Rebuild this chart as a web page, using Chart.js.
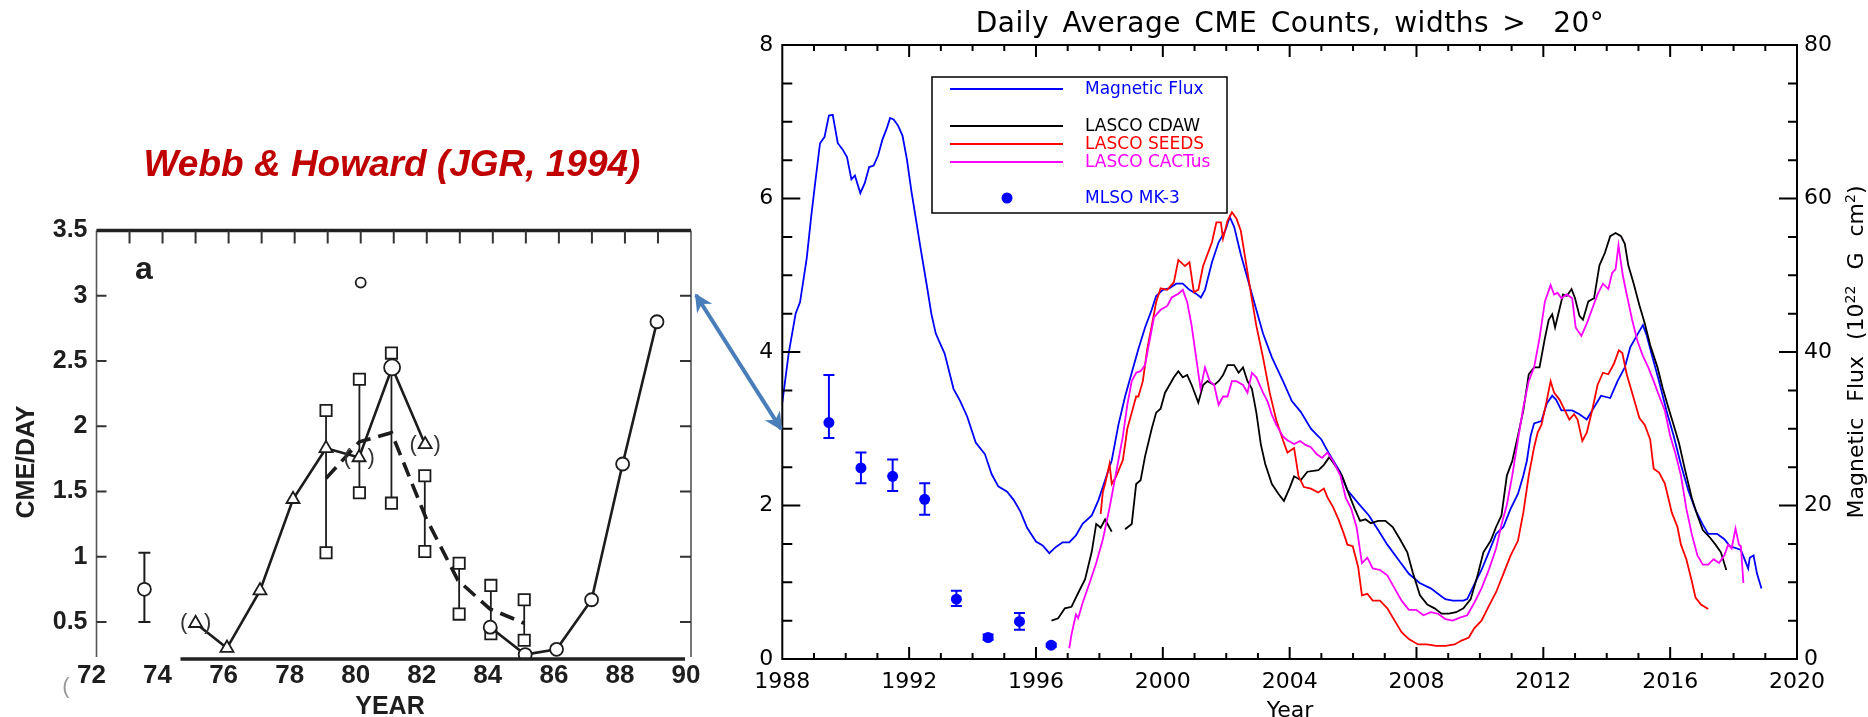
<!DOCTYPE html>
<html>
<head>
<meta charset="utf-8">
<title>CME rates</title>
<script src="https://cdn.jsdelivr.net/npm/chart.js@4.4.0/dist/chart.umd.min.js"></script>
<style>
html, body { margin: 0; padding: 0; background: #fff; }
#wrap { position: relative; width: 1868px; height: 717px; overflow: hidden; background: #fff; }
#wrap canvas, #wrap svg { position: absolute; left: 0; top: 0; }
.txt { position: absolute; white-space: nowrap; line-height: 1; transform: translate(-50%, -50%); }
.bold { font-family: 'Liberation Sans', Arial, sans-serif; font-weight: bold; color: #1e1e1e; }
.idl { font-family: 'DejaVu Sans', sans-serif; color: #000; }
</style>
</head>
<body>
<div id="wrap">
  <canvas id="webb" width="1868" height="717"></canvas>
  <canvas id="cme" width="1868" height="717"></canvas>

  <svg width="1868" height="717">
    <defs>
      <marker id="head" viewBox="0 0 10 10" refX="9" refY="5" markerWidth="5.5" markerHeight="4.5" orient="auto-start-reverse">
        <path d="M0,0 L10,5 L0,10 L3,5 z" fill="#4a7ebb"/>
      </marker>
    </defs>
    <line x1="696" y1="295" x2="781" y2="429" stroke="#4a7ebb" stroke-width="4" marker-start="url(#head)" marker-end="url(#head)"/>
  </svg>

  <!-- left panel text -->
  <div class="txt" style="left:392px;top:164px;font:italic bold 37px 'Liberation Sans', Arial, sans-serif;color:#c00000;">Webb &amp; Howard (JGR, 1994)</div>
  <div class="txt bold" style="left:144px;top:268px;font-size:32px;">a</div>
  <div class="txt bold" style="left:25px;top:462px;font-size:25px;transform:translate(-50%,-50%) rotate(-90deg);">CME/DAY</div>
  <div class="txt bold" style="left:390px;top:705px;font-size:25px;">YEAR</div>
  <div class="txt" style="left:66px;top:686px;font:22px 'Liberation Sans', Arial, sans-serif;color:#999;">(</div>

  <!-- right panel text -->
  <div class="txt idl" style="left:1290px;top:23px;font-size:28px;letter-spacing:0.5px;word-spacing:4px;">Daily Average CME Counts, widths &gt;&nbsp; 20°</div>
  <div class="txt idl" style="left:1290px;top:710px;font-size:22px;">Year</div>
  <div class="txt idl" style="left:1855px;top:352px;font-size:22px;word-spacing:9px;transform:translate(-50%,-50%) rotate(-90deg);">Magnetic Flux (10<sup style="font-size:14px;">22</sup> G cm<sup style="font-size:14px;">2</sup>)</div>
</div>

<script>
const SANS = "'DejaVu Sans', sans-serif";
const ARIAL = "'Liberation Sans', Arial, sans-serif";

// ── Webb & Howard (1994), panel a: CMEs per day vs year (19xx) ──────────
const whXTicks = [72, 74, 76, 78, 80, 82, 84, 86, 88, 90];
const whYTicks = [0.5, 1, 1.5, 2, 2.5, 3, 3.5];

// solid curve with open triangles
const whTriYears = [75.0, 75.95, 76.95, 77.95, 78.95, 79.95, 80.95, 81.95];
const whTriRates = [0.49, 0.30, 0.74, 1.44, 1.83, 1.76, 2.45, 1.86];
const whParenIdx = [0, 5, 7];            // triangles printed inside "( )"

// solid curve with open circles
const whCircYears = [83.92, 84.98, 85.93, 86.99, 87.93, 88.97];
const whCircRates = [0.46, 0.25, 0.29, 0.67, 1.71, 2.80];

// dashed curve
const whMeanYears = [78.95, 79.96, 80.93, 81.97, 82.94, 83.91, 84.95];
const whMeanRates = [1.60, 1.88, 1.95, 1.30, 0.82, 0.60, 0.49];

// open squares: upper and lower values joined by a vertical bar
const whBoxYears = [78.95, 79.96, 80.93, 81.94, 82.98, 83.94, 84.95];
const whBoxHigh  = [2.12, 2.36, 2.56, 1.62, 0.95, 0.78, 0.67];
const whBoxLow   = [1.03, 1.49, 1.41, 1.04, 0.56, 0.41, 0.36];

// single circles
const whEarlyYear = [73.45], whEarlyRate = [0.75], whEarlyLo = [0.50], whEarlyHi = [1.03];
const whPeakYear = [80.95], whPeakRate = [2.45];
const whOddYear = [80.0], whOddRate = [3.10];

// ── Daily average CME counts (widths > 20°) and magnetic flux ─────────
const cmeYTicks = [0, 2, 4, 6, 8];
const fluxTicks = [0, 20, 40, 60, 80];

const fluxYears = [1988.0, 1988.2, 1988.42, 1988.56, 1988.77, 1988.91, 1989.05, 1989.19, 1989.33, 1989.47,
  1989.59, 1989.75, 1989.9, 1990.04, 1990.18, 1990.29, 1990.46, 1990.6, 1990.74, 1990.88,
  1991.02, 1991.16, 1991.3, 1991.4, 1991.51, 1991.65, 1991.79, 1991.93, 1992.07, 1992.21,
  1992.35, 1992.56, 1992.7, 1992.84, 1993.12, 1993.4, 1993.61, 1993.83, 1994.1, 1994.39,
  1994.6, 1994.81, 1995.09, 1995.3, 1995.51, 1995.72, 1996.0, 1996.21, 1996.42, 1996.63,
  1996.84, 1997.05, 1997.26, 1997.47, 1997.76, 1997.97, 1998.18, 1998.39, 1998.6, 1998.81,
  1999.02, 1999.23, 1999.44, 1999.65, 1999.79, 2000.0, 2000.2, 2000.42, 2000.63, 2000.84,
  2001.05, 2001.2, 2001.33, 2001.55, 2001.76, 2001.97, 2002.11, 2002.25, 2002.46, 2002.67,
  2002.88, 2003.16, 2003.44, 2003.79, 2004.07, 2004.35, 2004.67, 2005.0, 2005.25, 2005.6,
  2005.82, 2006.16, 2006.5, 2006.79, 2007.08, 2007.42, 2007.76, 2008.1, 2008.45, 2008.74,
  2008.91, 2009.14, 2009.48, 2009.6, 2009.82, 2010.05, 2010.28, 2010.51, 2010.74, 2010.97,
  2011.2, 2011.37, 2011.48, 2011.6, 2011.71, 2011.94, 2012.11, 2012.28, 2012.4, 2012.57,
  2012.91, 2013.14, 2013.37, 2013.6, 2013.82, 2014.11, 2014.34, 2014.57, 2014.74, 2014.97,
  2015.14, 2015.25, 2015.43, 2015.65, 2015.88, 2016.11, 2016.34, 2016.57, 2016.8, 2017.03,
  2017.2, 2017.48, 2017.71, 2017.88, 2018.11, 2018.23, 2018.46, 2018.51, 2018.63, 2018.74, 2018.88];
const fluxValues = [33.4, 39.8, 45.0, 46.5, 52.2, 57.6, 62.5, 67.2, 68.0, 70.8,
  70.9, 67.2, 66.4, 65.4, 62.5, 63.0, 60.7, 62.0, 64.1, 64.3,
  65.6, 67.7, 69.2, 70.5, 70.3, 69.5, 68.2, 65.1, 61.0, 57.4,
  53.8, 48.6, 45.0, 42.4, 39.8, 35.2, 33.6, 31.6, 28.2, 26.7,
  24.1, 22.5, 21.8, 20.7, 19.2, 17.1, 15.3, 14.8, 13.8, 14.6,
  15.2, 15.2, 16.1, 17.6, 18.7, 20.7, 23.3, 25.9, 30.5, 34.2,
  37.3, 40.4, 43.2, 45.5, 47.3, 48.1, 48.3, 48.9, 48.9, 48.1,
  47.6, 47.1, 48.1, 51.7, 54.3, 55.8, 57.6, 56.3, 52.7, 49.6,
  46.5, 42.4, 39.3, 36.2, 33.6, 32.2, 30.0, 28.6, 26.7, 24.3,
  22.0, 20.3, 18.7, 16.8, 14.9, 13.0, 11.1, 9.9, 9.2, 8.3,
  7.8, 7.6, 7.6, 7.8, 9.7, 11.6, 13.9, 16.3, 17.2, 19.6,
  21.5, 23.9, 25.8, 29.1, 30.7, 31.0, 33.3, 34.3, 33.8, 32.4,
  32.4, 31.9, 31.2, 32.8, 34.3, 34.0, 36.2, 38.0, 40.6, 42.3,
  43.5, 42.3, 39.5, 36.2, 32.4, 29.1, 25.3, 22.0, 19.4, 17.5,
  16.3, 16.3, 15.6, 14.7, 14.4, 14.2, 11.8, 13.2, 13.5, 11.1, 9.2];

const cdawYears = [1996.49, 1996.7, 1996.91, 1997.12, 1997.33, 1997.55, 1997.76, 1997.9, 1998.04, 1998.18,
  1998.32, 1998.39, 1998.6, 1998.81, 1999.02, 1999.16, 1999.3, 1999.44, 1999.65, 1999.79,
  1999.93, 2000.07, 2000.21, 2000.35, 2000.49, 2000.63, 2000.77, 2000.91, 2001.12, 2001.27,
  2001.41, 2001.62, 2001.76, 2001.9, 2002.04, 2002.25, 2002.39, 2002.53, 2002.67, 2002.81,
  2002.95, 2003.09, 2003.23, 2003.44, 2003.65, 2003.82, 2004.0, 2004.14, 2004.35, 2004.56,
  2004.91, 2005.08, 2005.25, 2005.42, 2005.65, 2005.82, 2006.05, 2006.22, 2006.39, 2006.56,
  2006.79, 2007.02, 2007.25, 2007.48, 2007.71, 2007.88, 2008.11, 2008.34, 2008.57, 2008.79,
  2009.02, 2009.25, 2009.48, 2009.71, 2009.94, 2010.11, 2010.34, 2010.51, 2010.68, 2010.85,
  2011.02, 2011.2, 2011.37, 2011.54, 2011.71, 2011.88, 2012.05, 2012.17, 2012.28, 2012.37,
  2012.51, 2012.62, 2012.74, 2012.89, 2013.0, 2013.14, 2013.25, 2013.42, 2013.6, 2013.77,
  2013.94, 2014.11, 2014.28, 2014.45, 2014.57, 2014.68, 2014.85, 2015.03, 2015.2, 2015.37,
  2015.6, 2015.77, 2015.94, 2016.11, 2016.28, 2016.46, 2016.68, 2016.86, 2017.03, 2017.26,
  2017.43, 2017.6, 2017.77];
const cdawCounts = [0.50, 0.53, 0.66, 0.68, 0.86, 1.04, 1.40, 1.76, 1.71, 1.82,
  1.71, 1.66, null, 1.69, 1.76, 2.28, 2.33, 2.64, 3.00, 3.21,
  3.26, 3.47, 3.57, 3.67, 3.75, 3.67, 3.70, 3.57, 3.34, 3.57,
  3.62, 3.57, 3.62, 3.70, 3.83, 3.83, 3.73, 3.80, 3.62, 3.52,
  3.21, 2.80, 2.54, 2.28, 2.15, 2.06, 2.23, 2.38, 2.33, 2.44,
  2.46, 2.53, 2.63, 2.53, 2.39, 2.20, 1.96, 1.80, 1.82, 1.77,
  1.80, 1.80, 1.72, 1.56, 1.39, 1.13, 0.83, 0.71, 0.66, 0.59,
  0.59, 0.61, 0.66, 0.78, 1.11, 1.39, 1.54, 1.72, 1.87, 2.39,
  2.58, 2.91, 3.24, 3.71, 3.80, 3.80, 4.18, 4.42, 4.49, 4.32,
  4.56, 4.75, 4.73, 4.82, 4.70, 4.47, 4.42, 4.66, 4.70, 5.13,
  5.29, 5.51, 5.55, 5.51, 5.41, 5.13, 4.89, 4.61, 4.37, 4.09,
  3.80, 3.52, 3.28, 3.05, 2.81, 2.48, 2.10, 1.87, 1.68, 1.58,
  1.49, 1.39, 1.16];

const seedsYears = [1998.04, 1998.11, 1998.18, 1998.32, 1998.39, 1998.53, 1998.74, 1998.88, 1999.02, 1999.16,
  1999.23, 1999.37, 1999.51, 1999.65, 1999.79, 1999.93, 2000.14, 2000.35, 2000.49, 2000.7,
  2000.84, 2000.98, 2001.12, 2001.27, 2001.55, 2001.69, 2001.83, 2001.9, 2002.04, 2002.18,
  2002.32, 2002.46, 2002.6, 2002.74, 2002.95, 2003.16, 2003.37, 2003.58, 2003.79, 2003.93,
  2004.14, 2004.28, 2004.45, 2004.67, 2004.9, 2005.08, 2005.2, 2005.37, 2005.54, 2005.71,
  2005.82, 2005.99, 2006.16, 2006.28, 2006.45, 2006.62, 2006.85, 2007.08, 2007.31, 2007.53,
  2007.76, 2008.05, 2008.33, 2008.62, 2008.91, 2009.2, 2009.42, 2009.65, 2009.82, 2010.05,
  2010.28, 2010.51, 2010.74, 2010.97, 2011.2, 2011.37, 2011.54, 2011.71, 2011.82, 2011.94,
  2012.09, 2012.23, 2012.34, 2012.51, 2012.68, 2012.82, 2012.97, 2013.08, 2013.23, 2013.37,
  2013.54, 2013.71, 2013.88, 2014.05, 2014.23, 2014.38, 2014.49, 2014.63, 2014.8, 2015.03,
  2015.2, 2015.37, 2015.48, 2015.65, 2015.83, 2015.94, 2016.05, 2016.23, 2016.34, 2016.51,
  2016.68, 2016.8, 2016.97, 2017.2];
const seedsCounts = [1.89, 2.18, 2.28, 2.54, 2.28, 2.38, 2.59, 3.00, 3.21, 3.42,
  3.42, 3.62, 4.04, 4.34, 4.65, 4.83, 4.81, 4.91, 5.20, 5.12,
  5.17, 4.78, 4.81, 5.12, 5.43, 5.69, 5.69, 5.48, 5.71, 5.82,
  5.74, 5.58, 5.22, 4.86, 4.34, 3.93, 3.47, 3.11, 2.85, 2.69,
  2.75, 2.38, 2.24, 2.22, 2.17, 2.22, 2.10, 1.98, 1.82, 1.63,
  1.49, 1.47, 1.20, 0.83, 0.85, 0.76, 0.76, 0.66, 0.50, 0.35,
  0.26, 0.19, 0.19, 0.17, 0.17, 0.19, 0.24, 0.28, 0.40, 0.50,
  0.69, 0.87, 1.11, 1.35, 1.54, 1.91, 2.39, 2.76, 2.95, 3.05,
  3.33, 3.62, 3.47, 3.38, 3.24, 3.12, 3.19, 3.12, 2.84, 2.95,
  3.24, 3.57, 3.73, 3.71, 3.85, 4.02, 3.99, 3.71, 3.47, 3.14,
  3.05, 2.86, 2.48, 2.43, 2.29, 2.10, 1.91, 1.72, 1.49, 1.30,
  1.02, 0.80, 0.71, 0.65];

const cactusYears = [1997.05, 1997.12, 1997.26, 1997.33, 1997.47, 1997.69, 1997.9, 1998.11, 1998.32, 1998.46,
  1998.6, 1998.74, 1998.88, 1999.02, 1999.16, 1999.3, 1999.44, 1999.58, 1999.72, 1999.93,
  2000.14, 2000.28, 2000.49, 2000.63, 2000.77, 2000.91, 2001.05, 2001.19, 2001.33, 2001.48,
  2001.62, 2001.76, 2001.9, 2002.04, 2002.18, 2002.32, 2002.53, 2002.67, 2002.81, 2002.95,
  2003.16, 2003.3, 2003.44, 2003.58, 2003.79, 2003.93, 2004.14, 2004.33, 2004.5, 2004.67,
  2004.85, 2005.02, 2005.19, 2005.37, 2005.6, 2005.77, 2005.94, 2006.11, 2006.28, 2006.45,
  2006.62, 2006.85, 2007.08, 2007.31, 2007.53, 2007.76, 2007.99, 2008.22, 2008.45, 2008.68,
  2008.91, 2009.14, 2009.37, 2009.6, 2009.82, 2010.05, 2010.28, 2010.51, 2010.68, 2010.85,
  2011.02, 2011.2, 2011.37, 2011.54, 2011.71, 2011.88, 2012.05, 2012.23, 2012.34, 2012.45,
  2012.57, 2012.74, 2012.91, 2013.02, 2013.2, 2013.37, 2013.54, 2013.71, 2013.88, 2014.05,
  2014.17, 2014.28, 2014.37, 2014.51, 2014.63, 2014.8, 2014.97, 2015.14, 2015.31, 2015.48,
  2015.65, 2015.83, 2016.0, 2016.17, 2016.34, 2016.51, 2016.68, 2016.86, 2017.03, 2017.2,
  2017.37, 2017.54, 2017.71, 2017.83, 2017.94, 2018.06, 2018.17, 2018.23, 2018.31];
const cactusCounts = [0.14, 0.32, 0.58, 0.53, 0.73, 0.99, 1.25, 1.56, 1.97, 2.28,
  2.59, 2.90, 3.31, 3.62, 3.73, 3.75, 3.83, 4.14, 4.45, 4.55,
  4.60, 4.71, 4.76, 4.81, 4.65, 4.34, 3.93, 3.52, 3.80, 3.62,
  3.57, 3.31, 3.42, 3.42, 3.62, 3.62, 3.57, 3.47, 3.73, 3.67,
  3.47, 3.36, 3.18, 3.05, 2.90, 2.85, 2.80, 2.84, 2.79, 2.76,
  2.67, 2.62, 2.69, 2.58, 2.39, 2.10, 1.96, 1.72, 1.25, 1.32,
  1.18, 1.16, 1.09, 0.92, 0.76, 0.64, 0.64, 0.57, 0.61, 0.59,
  0.52, 0.50, 0.54, 0.57, 0.73, 0.92, 1.16, 1.44, 1.75, 2.01,
  2.39, 2.86, 3.28, 3.62, 3.80, 4.18, 4.66, 4.87, 4.75, 4.77,
  4.70, 4.75, 4.70, 4.32, 4.21, 4.37, 4.56, 4.75, 4.89, 4.82,
  5.03, 5.08, 5.39, 4.99, 4.75, 4.42, 4.14, 3.95, 3.80, 3.62,
  3.43, 3.24, 2.91, 2.67, 2.39, 1.96, 1.63, 1.35, 1.23, 1.23,
  1.30, 1.25, 1.35, 1.49, 1.44, 1.70, 1.49, 1.47, 0.99];

const mlsoYears  = [1989.47, 1990.48, 1991.48, 1992.49, 1993.49, 1994.49, 1995.48, 1996.48];
const mlsoCounts = [3.08, 2.49, 2.38, 2.08, 0.78, 0.28, 0.49, 0.18];
const mlsoLow    = [2.88, 2.29, 2.19, 1.88, 0.69, 0.25, 0.38, 0.16];
const mlsoHigh   = [3.70, 2.69, 2.60, 2.29, 0.89, 0.32, 0.60, 0.20];

// ── helpers ─────────────────────────────────────────
function pts(xs, ys) { return xs.map((x, i) => ({ x, y: ys[i] })); }
function bars(xs, lo, hi) {
    return xs.flatMap((x, i) => [{ x, y: lo[i] }, { x, y: hi[i] }, { x, y: null }]);
}
function fixedTicks(values) { return s => { s.ticks = values.map(v => ({ value: v })); }; }
function range(a, b, step) { const out = []; for (let v = a; v <= b + 1e-9; v += step) out.push(+v.toFixed(2)); return out; }

const hidden = { display: false, drawTicks: false };
const noBorder = { display: false };

// ── Webb & Howard panel ─────────────────────────────
const webbAxes = {
    id: 'webbAxes',
    afterDatasetsDraw(chart) {
        const { ctx, chartArea: a, scales } = chart;
        ctx.save();
        ctx.lineCap = 'butt';
        // frame: thin left/right, heavy top/bottom
        ctx.strokeStyle = '#555'; ctx.lineWidth = 1.6;
        ctx.beginPath();
        ctx.moveTo(a.left, a.top); ctx.lineTo(a.left, a.bottom - 2);
        ctx.moveTo(a.right, a.top); ctx.lineTo(a.right, a.bottom - 2);
        ctx.stroke();
        ctx.strokeStyle = '#222'; ctx.lineWidth = 3.5;
        ctx.beginPath();
        ctx.moveTo(a.left, a.top); ctx.lineTo(a.right, a.top);
        ctx.moveTo(a.left + 84, a.bottom); ctx.lineTo(a.right - 6, a.bottom);
        ctx.stroke();
        // inward ticks
        ctx.strokeStyle = '#333'; ctx.lineWidth = 2;
        ctx.beginPath();
        for (let yr = 73; yr < 90; yr++) {
            const x = scales.x.getPixelForValue(yr);
            ctx.moveTo(x, a.top); ctx.lineTo(x, a.top + 13);
        }
        for (let v = 0.5; v < 3.5; v += 0.5) {
            const y = scales.y.getPixelForValue(v);
            ctx.moveTo(a.left, y); ctx.lineTo(a.left + 10, y);
            ctx.moveTo(a.right, y); ctx.lineTo(a.right - 11, y);
        }
        ctx.stroke();
        // bracketed triangles
        ctx.fillStyle = '#333';
        ctx.font = `22px ${ARIAL}`;
        ctx.textAlign = 'center'; ctx.textBaseline = 'middle';
        whParenIdx.forEach(i => {
            const x = scales.x.getPixelForValue(whTriYears[i]);
            const y = scales.y.getPixelForValue(whTriRates[i]);
            ctx.fillText('(', x - 12, y);
            ctx.fillText(')', x + 12, y);
        });
        ctx.restore();
    }
};

const INK = '#1c1c1c';
const openPt = { pointBackgroundColor: '#fff', pointBorderColor: INK, pointBorderWidth: 1.8 };

new Chart(document.getElementById('webb'), {
    type: 'line',
    data: {
        datasets: [
            { data: pts(whOddYear, whOddRate), showLine: false, pointStyle: 'circle', pointRadius: 5, ...openPt },
            { data: pts(whEarlyYear, whEarlyRate), showLine: false, pointStyle: 'circle', pointRadius: 6.5, ...openPt },
            { data: bars(whEarlyYear, whEarlyLo, whEarlyHi), borderColor: INK, borderWidth: 2,
              pointStyle: 'line', pointRadius: 6, pointBorderColor: INK, pointBorderWidth: 2 },
            { data: pts(whPeakYear, whPeakRate), showLine: false, pointStyle: 'circle', pointRadius: 8, ...openPt },
            { data: pts(whCircYears, whCircRates), borderColor: INK, borderWidth: 2.6,
              pointStyle: 'circle', pointRadius: 6.5, ...openPt },
            { data: pts(whTriYears, whTriRates), borderColor: INK, borderWidth: 2.6,
              pointStyle: 'triangle', pointRadius: 7.5, ...openPt },
            { data: bars(whBoxYears, whBoxLow, whBoxHigh), borderColor: INK, borderWidth: 1.8,
              pointStyle: 'rect', pointRadius: 8, ...openPt },
            { data: pts(whMeanYears, whMeanRates), borderColor: INK, borderWidth: 3.6, borderDash: [15, 8],
              pointRadius: 0 }
        ]
    },
    options: {
        responsive: false,
        animation: false,
        devicePixelRatio: 1,
        layout: { padding: { top: 230.4, right: 1868 - 691, left: 0, bottom: 0 } },
        plugins: { legend: { display: false }, tooltip: { enabled: false } },
        elements: { line: { tension: 0 } },
        scales: {
            x: {
                type: 'linear', min: 72, max: 90,
                afterBuildTicks: fixedTicks(whXTicks),
                afterFit: s => { s.height = 58; },
                ticks: { autoSkip: false, maxRotation: 0, minRotation: 0, padding: 1, labelOffset: -5,
                         color: '#1e1e1e', font: { family: ARIAL, size: 26, weight: 'bold' },
                         callback: v => String(v) },
                grid: hidden, border: noBorder
            },
            y: {
                type: 'linear', min: 0.216, max: 3.5,
                afterBuildTicks: fixedTicks(whYTicks),
                afterFit: s => { s.width = 96.5; },
                ticks: { padding: 9, color: '#1e1e1e', font: { family: ARIAL, size: 25, weight: 'bold' },
                         callback: v => String(v) },
                grid: hidden, border: noBorder
            }
        }
    },
    plugins: [webbAxes]
});

// ── CME counts panel ────────────────────────────────
const BLUE = '#0000ff', RED = '#ff0000', MAGENTA = '#ff00ff', BLACK = '#000000';

const cmeAxes = {
    id: 'cmeAxes',
    afterDatasetsDraw(chart) {
        const { ctx, chartArea: a, scales } = chart;
        ctx.save();
        ctx.strokeStyle = '#000'; ctx.lineWidth = 2;
        ctx.strokeRect(a.left, a.top, a.right - a.left, a.bottom - a.top);
        ctx.beginPath();
        for (let yr = 1989; yr < 2020; yr++) {
            const x = scales.x.getPixelForValue(yr);
            const len = yr % 4 === 0 ? 12 : 6;
            ctx.moveTo(x, a.bottom); ctx.lineTo(x, a.bottom - len);
            ctx.moveTo(x, a.top); ctx.lineTo(x, a.top + len);
        }
        for (let v = 0.5; v < 8; v += 0.5) {
            const y = scales.y.getPixelForValue(v);
            ctx.moveTo(a.left, y); ctx.lineTo(a.left + (v % 2 === 0 ? 18 : 10), y);
        }
        for (let f = 5; f < 80; f += 5) {
            const y = scales.y2.getPixelForValue(f);
            ctx.moveTo(a.right, y); ctx.lineTo(a.right - (f % 20 === 0 ? 18 : 9), y);
        }
        ctx.stroke();
        ctx.restore();
    }
};

// legend box in the upper left of the plot
const cmeLegend = {
    id: 'cmeLegend',
    afterDraw(chart) {
        const ctx = chart.ctx;
        const rows = [
            { label: 'Magnetic Flux', color: BLUE, y: 89, kind: 'line' },
            { label: 'LASCO CDAW', color: BLACK, y: 126, kind: 'line' },
            { label: 'LASCO SEEDS', color: RED, y: 144, kind: 'line' },
            { label: 'LASCO CACTus', color: MAGENTA, y: 162, kind: 'line' },
            { label: 'MLSO MK-3', color: BLUE, y: 198, kind: 'dot' }
        ];
        ctx.save();
        ctx.fillStyle = '#fff';
        ctx.fillRect(932, 77, 295, 136);
        ctx.strokeStyle = '#000'; ctx.lineWidth = 1.5;
        ctx.strokeRect(932, 77, 295, 136);
        ctx.font = `17px ${SANS}`;
        ctx.textBaseline = 'middle'; ctx.textAlign = 'left';
        rows.forEach(r => {
            ctx.strokeStyle = r.color; ctx.fillStyle = r.color;
            if (r.kind === 'line') {
                ctx.lineWidth = 2;
                ctx.beginPath(); ctx.moveTo(950, r.y); ctx.lineTo(1063, r.y); ctx.stroke();
            } else {
                ctx.beginPath(); ctx.arc(1007, r.y, 5.5, 0, Math.PI * 2); ctx.fill();
            }
            ctx.fillText(r.label, 1085, r.y + 1);
        });
        ctx.restore();
    }
};

const tickFont = { family: SANS, size: 22 };

new Chart(document.getElementById('cme'), {
    type: 'line',
    data: {
        datasets: [
            { label: 'MLSO MK-3', data: pts(mlsoYears, mlsoCounts), yAxisID: 'y', showLine: false,
              pointStyle: 'circle', pointRadius: 5.5, pointBackgroundColor: BLUE, pointBorderColor: BLUE, pointBorderWidth: 0 },
            { label: 'MLSO error', data: bars(mlsoYears, mlsoLow, mlsoHigh), yAxisID: 'y',
              borderColor: BLUE, borderWidth: 2, pointStyle: 'line', pointRadius: 5.5,
              pointBorderColor: BLUE, pointBorderWidth: 2 },
            { label: 'LASCO CACTus', data: pts(cactusYears, cactusCounts), yAxisID: 'y',
              borderColor: MAGENTA, borderWidth: 1.8, pointRadius: 0 },
            { label: 'LASCO SEEDS', data: pts(seedsYears, seedsCounts), yAxisID: 'y',
              borderColor: RED, borderWidth: 1.8, pointRadius: 0 },
            { label: 'LASCO CDAW', data: pts(cdawYears, cdawCounts), yAxisID: 'y',
              borderColor: BLACK, borderWidth: 1.8, pointRadius: 0 },
            { label: 'Magnetic Flux', data: pts(fluxYears, fluxValues), yAxisID: 'y2',
              borderColor: BLUE, borderWidth: 1.8, pointRadius: 0 }
        ]
    },
    options: {
        responsive: false,
        animation: false,
        devicePixelRatio: 1,
        layout: { padding: { top: 45, right: 0, left: 0, bottom: 0 } },
        plugins: { legend: { display: false }, tooltip: { enabled: false } },
        elements: { line: { tension: 0 } },
        scales: {
            x: {
                type: 'linear', min: 1988, max: 2020,
                afterBuildTicks: fixedTicks(range(1988, 2020, 4)),
                afterFit: s => { s.height = 58; },
                ticks: { autoSkip: false, maxRotation: 0, minRotation: 0, padding: 10,
                         color: '#000', font: tickFont, callback: v => String(v) },
                grid: hidden, border: noBorder
            },
            y: {
                type: 'linear', position: 'left', min: 0, max: 8,
                afterBuildTicks: fixedTicks(cmeYTicks),
                afterFit: s => { s.width = 782.3; },
                ticks: { padding: 9, color: '#000', font: tickFont, callback: v => String(v) },
                grid: hidden, border: noBorder
            },
            y2: {
                type: 'linear', position: 'right', min: 0, max: 80,
                afterBuildTicks: fixedTicks(fluxTicks),
                afterFit: s => { s.width = 1868 - 1797; },
                ticks: { padding: 7, color: '#000', font: tickFont, callback: v => String(v) },
                grid: hidden, border: noBorder
            }
        }
    },
    plugins: [cmeAxes, cmeLegend]
});
</script>
</body>
</html>
